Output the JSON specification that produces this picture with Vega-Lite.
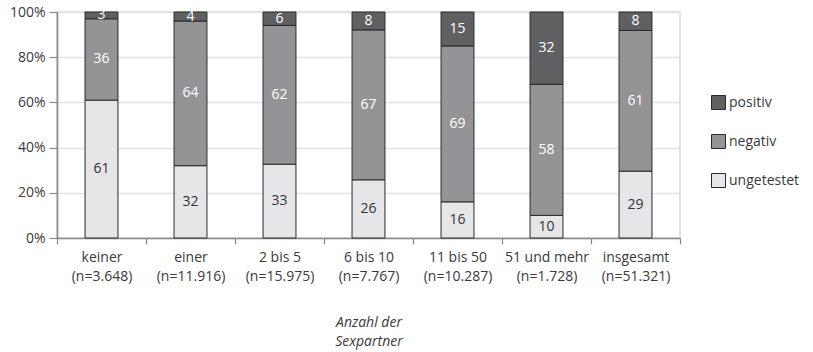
{
  "$schema": "https://vega.github.io/schema/vega-lite/v6.json",
  "width": 623,
  "height": 226,
  "autosize": {"type": "none"},
  "padding": {"left": 57, "top": 12, "right": 133, "bottom": 114},
  "background": "white",
  "config": {
    "font": "Open Sans",
    "view": {"stroke": "#d8d8d8", "strokeWidth": 1.5},
    "axis": {"labelFont": "Open Sans", "titleFont": "Open Sans", "labelColor": "#3a3a3a", "titleColor": "#3a3a3a"}
  },
  "data": {
    "values": [
      {"cat": "keiner|(n=3.648)", "status": "ungetestet", "ord": 1, "value": 61},
      {"cat": "keiner|(n=3.648)", "status": "negativ", "ord": 2, "value": 36},
      {"cat": "keiner|(n=3.648)", "status": "positiv", "ord": 3, "value": 3},
      {"cat": "einer|(n=11.916)", "status": "ungetestet", "ord": 1, "value": 32},
      {"cat": "einer|(n=11.916)", "status": "negativ", "ord": 2, "value": 64},
      {"cat": "einer|(n=11.916)", "status": "positiv", "ord": 3, "value": 4},
      {"cat": "2 bis 5|(n=15.975)", "status": "ungetestet", "ord": 1, "value": 33},
      {"cat": "2 bis 5|(n=15.975)", "status": "negativ", "ord": 2, "value": 62},
      {"cat": "2 bis 5|(n=15.975)", "status": "positiv", "ord": 3, "value": 6},
      {"cat": "6 bis 10|(n=7.767)", "status": "ungetestet", "ord": 1, "value": 26},
      {"cat": "6 bis 10|(n=7.767)", "status": "negativ", "ord": 2, "value": 67},
      {"cat": "6 bis 10|(n=7.767)", "status": "positiv", "ord": 3, "value": 8},
      {"cat": "11 bis 50|(n=10.287)", "status": "ungetestet", "ord": 1, "value": 16},
      {"cat": "11 bis 50|(n=10.287)", "status": "negativ", "ord": 2, "value": 69},
      {"cat": "11 bis 50|(n=10.287)", "status": "positiv", "ord": 3, "value": 15},
      {"cat": "51 und mehr|(n=1.728)", "status": "ungetestet", "ord": 1, "value": 10},
      {"cat": "51 und mehr|(n=1.728)", "status": "negativ", "ord": 2, "value": 58},
      {"cat": "51 und mehr|(n=1.728)", "status": "positiv", "ord": 3, "value": 32},
      {"cat": "insgesamt|(n=51.321)", "status": "ungetestet", "ord": 1, "value": 29},
      {"cat": "insgesamt|(n=51.321)", "status": "negativ", "ord": 2, "value": 61},
      {"cat": "insgesamt|(n=51.321)", "status": "positiv", "ord": 3, "value": 8}
    ]
  },
  "transform": [
    {"stack": "value", "groupby": ["cat"], "sort": [{"field": "ord", "order": "ascending"}], "offset": "normalize", "as": ["y0", "y1"]},
    {"calculate": "(datum.y0 + datum.y1) / 2", "as": "ym"}
  ],
  "encoding": {
    "x": {
      "field": "cat",
      "type": "nominal",
      "sort": null,
      "scale": {"paddingInner": 0, "paddingOuter": 0},
      "axis": {
        "title": ["Anzahl der", "Sexpartner"],
        "titleFontStyle": "italic",
        "titleFontWeight": "normal",
        "titleFontSize": 14,
        "titlePadding": 32,
        "titleLineHeight": 19,
        "labelExpr": "split(datum.label, '|')",
        "labelAngle": 0,
        "labelFontSize": 14,
        "labelLineHeight": 19,
        "labelPadding": 6,
        "labelBaseline": "top",
        "tickBand": "extent",
        "tickSize": 6,
        "tickColor": "#888888",
        "tickWidth": 1.2,
        "domainColor": "#8a8a8a",
        "domainWidth": 1.6,
        "grid": false
      }
    }
  },
  "layer": [
    {
      "mark": {"type": "bar", "width": {"band": 0.37}, "stroke": "#2a2a2a", "strokeWidth": 1},
      "encoding": {
        "y": {
          "field": "y1",
          "type": "quantitative",
          "scale": {"domain": [0, 1], "nice": false},
          "axis": {
            "title": null,
            "format": ".0%",
            "values": [0, 0.2, 0.4, 0.6, 0.8, 1],
            "labelFontSize": 14,
            "labelPadding": 4,
            "tickSize": 8,
            "tickColor": "#888888",
            "tickWidth": 1.2,
            "domainColor": "#8a8a8a",
            "domainWidth": 1.6,
            "gridColor": "#e2e2e2",
            "gridWidth": 1.6
          }
        },
        "y2": {"field": "y0"},
        "color": {
          "field": "status",
          "type": "nominal",
          "scale": {"domain": ["positiv", "negativ", "ungetestet"], "range": ["#606062", "#949497", "#e6e6e8"]},
          "legend": {
            "title": null,
            "orient": "none",
            "legendX": 654,
            "legendY": 83,
            "symbolType": "square",
            "symbolSize": 196,
            "symbolStrokeColor": "#2a2a2a",
            "symbolStrokeWidth": 1,
            "labelFontSize": 14,
            "labelColor": "#3a3a3a",
            "labelFont": "Open Sans",
            "labelOffset": 3,
            "rowPadding": 20,
            "padding": 0
          }
        }
      }
    },
    {
      "mark": {"type": "text", "fontSize": 14, "baseline": "middle", "align": "center"},
      "encoding": {
        "y": {"field": "ym", "type": "quantitative"},
        "text": {"field": "value", "type": "quantitative"},
        "color": {"condition": {"test": "datum.status === 'ungetestet'", "value": "#333333"}, "value": "#ffffff"}
      }
    }
  ]
}
